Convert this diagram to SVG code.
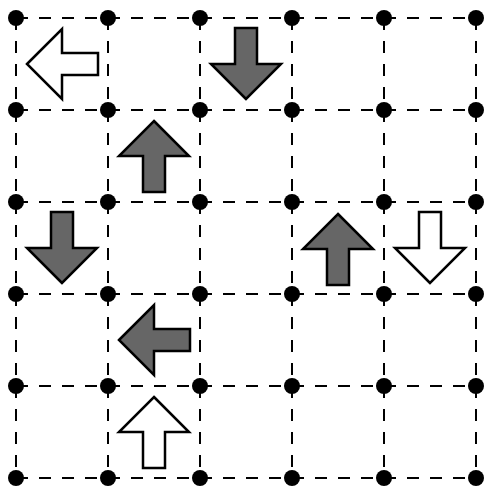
<svg xmlns="http://www.w3.org/2000/svg" xmlns:xlink="http://www.w3.org/1999/xlink" width="485" height="488" viewBox="0 0 485 488">
<style>
.grid{stroke:#000;stroke-width:2.5;stroke-dasharray:12 11;fill:none;shape-rendering:crispEdges}
.dot{fill:#000}
.arrow{stroke:#000;stroke-width:2.5;stroke-linejoin:miter}
.gray{fill:#666666}
.white{fill:#ffffff}
</style>
<defs>
<polygon id="up" points="0,-35 35,0 11,0 11,36 -11,36 -11,0 -35,0"/>
</defs>
<rect width="485" height="488" fill="#fff"/>
<g id="connectors">
<path class="grid" d="M16,18H476M16,110H476M16,202H476M16,294H476M16,386H476M16,478H476"/>
<path class="grid" d="M16,18V478M108,18V478M200,18V478M292,18V478M384,18V478M476,18V478"/>
</g>
<g id="dots">
<g class="dot">
<circle cx="16" cy="18" r="8"/><circle cx="108" cy="18" r="8"/><circle cx="200" cy="18" r="8"/><circle cx="292" cy="18" r="8"/><circle cx="384" cy="18" r="8"/><circle cx="476" cy="18" r="8"/>
<circle cx="16" cy="110" r="8"/><circle cx="108" cy="110" r="8"/><circle cx="200" cy="110" r="8"/><circle cx="292" cy="110" r="8"/><circle cx="384" cy="110" r="8"/><circle cx="476" cy="110" r="8"/>
<circle cx="16" cy="202" r="8"/><circle cx="108" cy="202" r="8"/><circle cx="200" cy="202" r="8"/><circle cx="292" cy="202" r="8"/><circle cx="384" cy="202" r="8"/><circle cx="476" cy="202" r="8"/>
<circle cx="16" cy="294" r="8"/><circle cx="108" cy="294" r="8"/><circle cx="200" cy="294" r="8"/><circle cx="292" cy="294" r="8"/><circle cx="384" cy="294" r="8"/><circle cx="476" cy="294" r="8"/>
<circle cx="16" cy="386" r="8"/><circle cx="108" cy="386" r="8"/><circle cx="200" cy="386" r="8"/><circle cx="292" cy="386" r="8"/><circle cx="384" cy="386" r="8"/><circle cx="476" cy="386" r="8"/>
<circle cx="16" cy="478" r="8"/><circle cx="108" cy="478" r="8"/><circle cx="200" cy="478" r="8"/><circle cx="292" cy="478" r="8"/><circle cx="384" cy="478" r="8"/><circle cx="476" cy="478" r="8"/>
</g>
</g>
<g id="arrow-r0c0"><use xlink:href="#up" class="arrow white" transform="translate(62,64) rotate(-90)"/></g>
<g id="arrow-r0c2"><use xlink:href="#up" class="arrow gray" transform="translate(246,64) rotate(180)"/></g>
<g id="arrow-r1c1"><use xlink:href="#up" class="arrow gray" transform="translate(154,156)"/></g>
<g id="arrow-r2c0"><use xlink:href="#up" class="arrow gray" transform="translate(62,248) rotate(180)"/></g>
<g id="arrow-r2c3"><use xlink:href="#up" class="arrow gray" transform="translate(338,249)"/></g>
<g id="arrow-r2c4"><use xlink:href="#up" class="arrow white" transform="translate(430,248) rotate(180)"/></g>
<g id="arrow-r3c1"><use xlink:href="#up" class="arrow gray" transform="translate(154,340) rotate(-90)"/></g>
<g id="arrow-r4c1"><use xlink:href="#up" class="arrow white" transform="translate(154,432)"/></g>
</svg>
